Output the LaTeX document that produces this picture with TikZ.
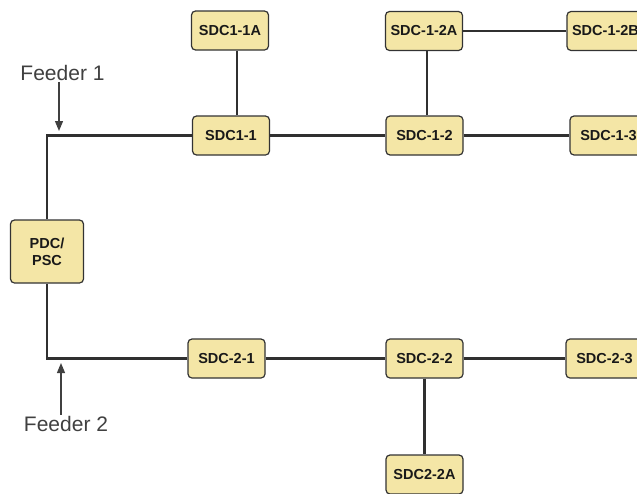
\documentclass[tikz,border=0pt]{standalone}
\usepackage{fontspec}
\setmainfont{Liberation Sans}
\usetikzlibrary{arrows.meta, positioning}
\definecolor{boxFill}{HTML}{F4E6A6}
\definecolor{boxEdge}{HTML}{333333}
\definecolor{lineGray}{HTML}{303030}
\definecolor{labelGray}{HTML}{404040}
\tikzset{
  sdcbox/.style={fill=boxFill, draw=boxEdge, line width=1.2pt, rounded corners=4pt,
                 minimum width=77pt, minimum height=39pt, inner sep=1pt, align=center,
                 font=\fontsize{14.5}{17}\selectfont\bfseries, text=black!90},
  bus/.style={draw=lineGray, line width=2.2pt},
  feedarrow/.style={draw=labelGray, line width=1.2pt, -{Triangle[length=10pt,width=8pt]}},
  feedlabel/.style={font=\fontsize{21}{24}\selectfont, text=labelGray, inner sep=1pt}
}

\begin{document}
\begin{tikzpicture}[x=1pt, y=-1pt]
  \useasboundingbox (0,0) rectangle (637,493);
  \clip (0,0) rectangle (637,493);

  % source
  \node[sdcbox, minimum width=73pt, minimum height=63pt] (pdc) at (47,251.5) {PDC/\\PSC};

  % feeder 1 branch
  \node[sdcbox] (sdc11a) at (230,30.5) {SDC1-1A};
  \node[sdcbox] (sdc11)  at (231,135.5) {SDC1-1};
  \node[sdcbox] (sdc12a) at (424,31) {SDC-1-2A};
  \node[sdcbox] (sdc12)  at (424.5,135.5) {SDC-1-2};
  \node[sdcbox] (sdc12b) at (605.5,31) {SDC-1-2B};
  \node[sdcbox] (sdc13)  at (608.5,135.5) {SDC-1-3};

  % feeder 2 branch
  \node[sdcbox] (sdc21)  at (226.5,358.5) {SDC-2-1};
  \node[sdcbox] (sdc22)  at (424.5,358.5) {SDC-2-2};
  \node[sdcbox] (sdc23)  at (604.5,358.5) {SDC-2-3};
  \node[sdcbox] (sdc22a) at (424.5,474.5) {SDC2-2A};

  % feeder labels
  \node[feedlabel] (feed1) at (62.5,73) {Feeder 1};
  \node[feedlabel] (feed2) at (66,423.5) {Feeder 2};
  \coordinate (tap1) at (59,131);
  \coordinate (tap2) at (61,363);

  % buses
  \draw[bus] (pdc.north) |- (sdc11.west);
  \draw[bus] (pdc.south) |- (sdc21.west);
  \draw[bus] (sdc11) -- (sdc12) -- (sdc13);
  \draw[bus] ([xshift=7pt]sdc11a.south) -- ([xshift=7pt]sdc11a.south |- sdc11.north);
  \draw[bus] ([xshift=3pt]sdc12a.south) -- ([xshift=3pt]sdc12a.south |- sdc12.north);
  \draw[bus] (sdc12a) -- (sdc12b);
  \draw[bus] (sdc21) -- (sdc22) -- (sdc23);
  \draw[bus] (sdc22) -- (sdc22a);

  % feeder arrows
  \draw[feedarrow] (feed1.south -| tap1) -- (tap1);
  \draw[feedarrow] (feed2.north -| tap2) -- (tap2);
\end{tikzpicture}
\end{document}
